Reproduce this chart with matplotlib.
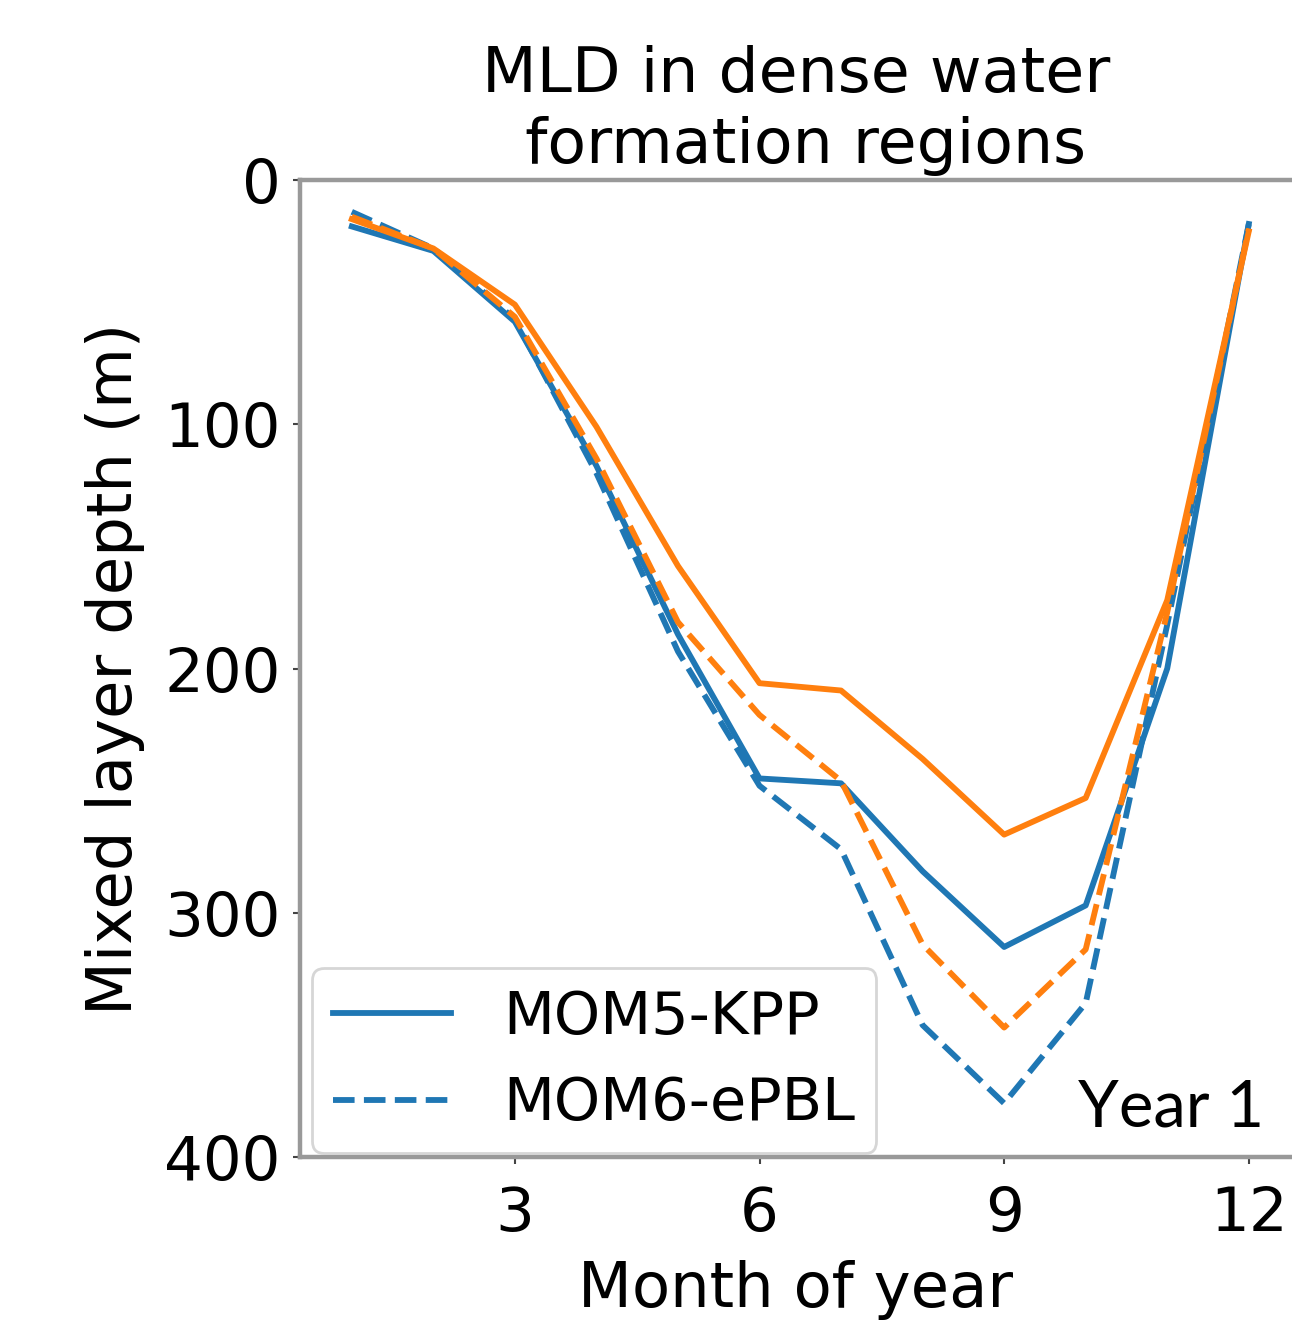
import numpy as np
import matplotlib
matplotlib.use("Agg")
import matplotlib.pyplot as plt

# monthly mean MLD (m)
months = np.arange(1, 13)
kpp_blue = [19, 29, 58, 117, 186, 245, 247, 283, 314, 297, 200, 18]
epbl_blue = [13, 28, 57, 120, 193, 248, 274, 346, 378, 337, 182, 18]
kpp_orange = [16, 28, 51, 101, 158, 206, 209, 237, 268, 253, 172, 21]
epbl_orange = [15, 28, 56, 114, 181, 219, 246, 313, 347, 315, 177, 20]

xticks = [3, 6, 9, 12]
yticks = [0, 100, 200, 300, 400]

fig = plt.figure(figsize=(12.92, 13.22), dpi=100)
ax = fig.add_axes([300 / 1292, 0.1248, 992 / 1292, 0.739])

lw = 4.2
ax.plot(months, kpp_blue, color='#1f77b4', lw=lw, label='MOM5-KPP')
ax.plot(months, epbl_blue, color='#1f77b4', lw=lw, ls='--', label='MOM6-ePBL')
ax.plot(months, kpp_orange, color='#ff7f0e', lw=lw)
ax.plot(months, epbl_orange, color='#ff7f0e', lw=lw, ls='--')

ax.set_xlim(0.365, 12.53)
ax.set_ylim(400, 0)
ax.set_xticks(xticks)
ax.set_yticks(yticks)

for side in ['left', 'bottom', 'top']:
    ax.spines[side].set_color('#999999')
    ax.spines[side].set_linewidth(3.2)
ax.spines['right'].set_visible(False)

ax.tick_params(axis='both', labelsize=44, length=5, width=1.5, color='#444444')
ax.tick_params(axis='y', pad=9)
ax.tick_params(axis='x', pad=15)

ax.set_xlabel('Month of year', fontsize=45, labelpad=12)
ax.set_ylabel('Mixed layer depth (m)', fontsize=45, labelpad=14)
ax.set_title('MLD in dense water\n formation regions', fontsize=45.5, pad=12,
             linespacing=1.25)

leg = ax.legend(loc='lower left', bbox_to_anchor=(0.012, 0.004),
                borderaxespad=0, fontsize=42.5, handlelength=2.0,
                labelspacing=0.5, borderpad=0.35, handletextpad=0.9)
leg.get_frame().set_linewidth(2)

ax.text(0.972, 0.031, 'Year 1', transform=ax.transAxes, ha='right',
        va='baseline', fontsize=47, family=['Lato', 'DejaVu Sans'])

fig.savefig('out.png', dpi=100)
